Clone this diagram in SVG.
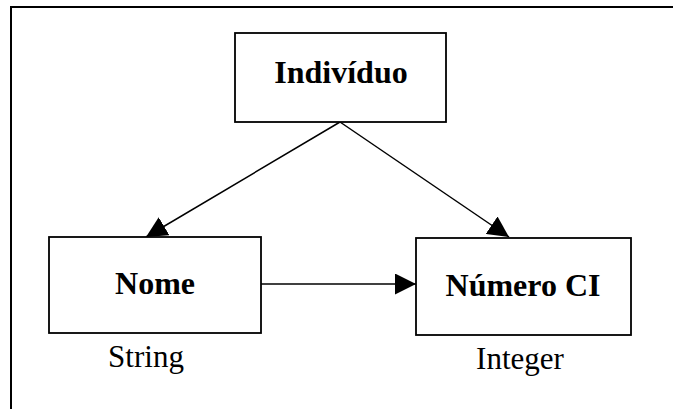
<svg xmlns="http://www.w3.org/2000/svg" width="673" height="409" viewBox="0 0 673 409">
  <style>
    .frame { fill: none; stroke: #000; stroke-width: 2; }
    .box { fill: #fff; stroke: #000; stroke-width: 1.8; }
    .edge { fill: none; stroke: #000; stroke-width: 1.5; marker-end: url(#arrow); }
    .title { font-family: "Liberation Serif", "Times New Roman", serif; font-size: 32px; font-weight: bold; text-anchor: middle; fill: #000; }
    .type { font-family: "Liberation Serif", "Times New Roman", serif; font-size: 31px; text-anchor: middle; fill: #000; }
  </style>
  <defs>
    <marker id="arrow" viewBox="0 0 21 21" refX="21" refY="10.5" markerWidth="21" markerHeight="21" markerUnits="userSpaceOnUse" orient="auto">
      <path d="M0,0 L21,10.5 L0,21 z" fill="#000"/>
    </marker>
  </defs>
  <rect width="673" height="409" fill="#fff"/>
  <!-- outer frame, open past the right and bottom edges -->
  <rect class="frame" x="11" y="7" width="700" height="500"/>

  <g id="connectors">
    <line class="edge" x1="340" y1="122" x2="146" y2="237"/>
    <line class="edge" x1="340" y1="122" x2="509" y2="237"/>
    <line class="edge" x1="261" y1="284" x2="416" y2="284"/>
  </g>

  <g id="individuo">
    <rect class="box" x="235" y="33" width="211" height="89"/>
    <text class="title" x="341" y="83">Indivíduo</text>
  </g>

  <g id="nome">
    <rect class="box" x="49" y="237" width="212" height="96"/>
    <text class="title" x="155" y="294">Nome</text>
    <text class="type" x="146" y="367">String</text>
  </g>

  <g id="numero-ci">
    <rect class="box" x="416" y="238" width="215" height="97"/>
    <text class="title" x="523" y="296">Número CI</text>
    <text class="type" x="520" y="369">Integer</text>
  </g>
</svg>
